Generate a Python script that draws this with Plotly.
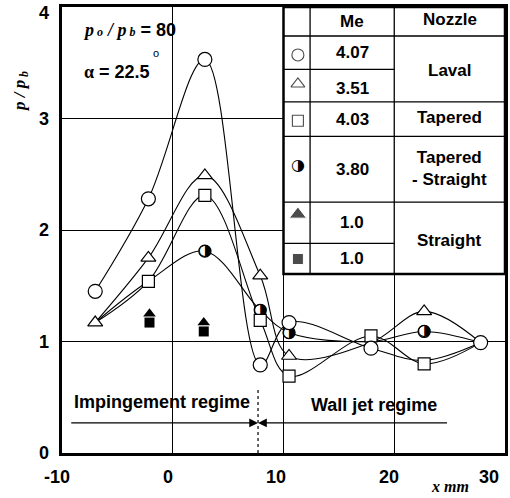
import plotly.graph_objects as go

# ---------------- data ----------------
x_pos = [-7, -2.2, 2.9, 7.9, 10.5, 17.9, 22.7, 27.8]

laval_407 = [1.45, 2.28, 3.53, 0.79, 1.17, 0.94, 0.83, 0.99]
laval_407_shown = [1, 1, 1, 1, 1, 1, 0, 1]

laval_351 = [1.17, 1.75, 2.49, 1.59, 0.87, 0.99, 1.27, 0.99]
laval_351_shown = [1, 1, 1, 1, 1, 0, 1, 0]

tapered_403 = [1.17, 1.54, 2.31, 1.19, 0.69, 1.05, 0.80, 0.99]
tapered_403_shown = [0, 1, 1, 1, 1, 1, 1, 0]

tap_str_380 = [1.17, 1.54, 1.81, 1.28, 1.08, 1.00, 1.09, 0.99]
tap_str_380_shown = [0, 0, 1, 1, 1, 0, 1, 0]

x_straight = [-2.1, 2.8]
straight_tri = [1.25, 1.17]
straight_sq = [1.17, 1.09]

x_ticks = [-10, 0, 10, 20, 30]
x_tick_shift = [-5, -5, -8, -5, -16]
y_ticks = [0, 1, 2, 3, 4]
y_tick_shift = [0, 0, 0, 0, -6]

# legend table content
tbl_me = ["4.07", "3.51", "4.03", "3.80", "1.0", "1.0"]
tbl_me_y = [3.59, 3.27, 2.99, 2.545, 2.07, 1.74]
tbl_sym_y = [3.57, 3.31, 2.98, 2.575, 2.14, 1.74]
tbl_nozzle = ["Laval", "Tapered", "Tapered<br>- Straight", "Straight"]
tbl_nozzle_y = [3.43, 3.01, 2.55, 1.91]

FONT = "Liberation Sans"
SERIF = "Liberation Serif"

fig = go.Figure()

def curve(ys):
    fig.add_trace(go.Scatter(x=x_pos, y=ys, mode="lines",
                             line=dict(color="black", width=1.1, shape="spline", smoothing=1.0),
                             hoverinfo="skip", showlegend=False))

for ys in [tap_str_380, tapered_403, laval_351, laval_407]:
    curve(ys)

def pick(ys, shown):
    xs = [x for x, s in zip(x_pos, shown) if s]
    yy = [y for y, s in zip(ys, shown) if s]
    return xs, yy

# half circle markers (white base + glyph)
hx, hy = pick(tap_str_380, tap_str_380_shown)
fig.add_trace(go.Scatter(x=hx, y=hy, mode="markers",
                         marker=dict(symbol="circle", size=12, color="white",
                                     line=dict(color="black", width=1.2)),
                         showlegend=False, hoverinfo="skip"))
fig.add_trace(go.Scatter(x=hx, y=hy, mode="text", text=["◑"] * len(hx),
                         textfont=dict(family="DejaVu Sans", size=16, color="black"),
                         textposition="middle center", showlegend=False, hoverinfo="skip"))

def markers(ys, shown, symbol, size):
    xs, yy = pick(ys, shown)
    fig.add_trace(go.Scatter(x=xs, y=yy, mode="markers",
                             marker=dict(symbol=symbol, size=size, color="white",
                                         line=dict(color="black", width=1.2)),
                             showlegend=False, hoverinfo="skip"))

markers(laval_351, laval_351_shown, "triangle-up", 13)
markers(tapered_403, tapered_403_shown, "square", 12)
markers(laval_407, laval_407_shown, "circle", 14)

fig.add_trace(go.Scatter(x=x_straight, y=straight_sq, mode="markers",
                         marker=dict(symbol="square", size=10, color="black"),
                         showlegend=False, hoverinfo="skip"))
fig.add_trace(go.Scatter(x=x_straight, y=straight_tri, mode="markers",
                         marker=dict(symbol="triangle-up", size=11, color="black"),
                         showlegend=False, hoverinfo="skip"))

# ---------------- legend table ----------------
tx0, tx1, tx2, tx3 = 10, 12.4, 20, 30
ty_top, ty_bot = 4.0, 1.605
shapes = [
    dict(type="rect", x0=tx0, x1=tx3, y0=ty_bot, y1=ty_top, xref="x", yref="y",
         fillcolor="white", line=dict(color="black", width=2.5), layer="between"),
]
for xv in [tx1, tx2]:
    shapes.append(dict(type="line", x0=xv, x1=xv, y0=ty_bot, y1=ty_top, xref="x", yref="y",
                       line=dict(color="black", width=1.3), layer="between"))
for yv, xe in [(3.74, tx3), (3.44, tx2), (3.15, tx3), (2.84, tx3), (2.25, tx3), (1.88, tx2)]:
    shapes.append(dict(type="line", x0=tx0, x1=xe, y0=yv, y1=yv, xref="x", yref="y",
                       line=dict(color="black", width=1.3), layer="between"))

# dotted regime divider
shapes.append(dict(type="line", x0=7.7, x1=7.7, y0=0, y1=0.57, xref="x", yref="y",
                   line=dict(color="black", width=1.2, dash="dot")))

sym_x = [11.3] * 6
fig.add_trace(go.Scatter(x=sym_x[:3], y=tbl_sym_y[:3], mode="markers",
                         marker=dict(symbol=["circle", "triangle-up", "square"], size=[12, 12, 11],
                                     color="white", line=dict(color="black", width=1.1)),
                         showlegend=False, hoverinfo="skip"))
fig.add_trace(go.Scatter(x=[11.3], y=[tbl_sym_y[3]], mode="text", text=["◑"],
                         textfont=dict(family="DejaVu Sans", size=16, color="black"),
                         showlegend=False, hoverinfo="skip"))
fig.add_trace(go.Scatter(x=sym_x[4:], y=tbl_sym_y[4:], mode="markers",
                         marker=dict(symbol=["triangle-up", "square"], size=[15, 11], color="black"),
                         showlegend=False, hoverinfo="skip"))

annotations = []
def txt(x, y, s, size=17, xref="x", yref="y", **kw):
    d = dict(x=x, y=y, text=s, xref=xref, yref=yref, showarrow=False,
             font=dict(family=FONT, size=size, color="black", weight="bold"))
    d.update(kw)
    annotations.append(d)

txt((tx1 + tx2) / 2, 3.87, "Me")
txt((tx2 + tx3) / 2, 3.89, "Nozzle")
for s, yv in zip(tbl_me, tbl_me_y):
    txt((tx1 + tx2) / 2, yv, s)
for s, yv in zip(tbl_nozzle, tbl_nozzle_y):
    txt((tx2 + tx3) / 2, yv, s)

# tick labels
for v, sh in zip(x_ticks, x_tick_shift):
    annotations.append(dict(x=v, y=0, xref="x", yref="paper", yanchor="top", yshift=-12, xshift=sh,
                            showarrow=False, text=str(v),
                            font=dict(family=FONT, size=18, color="black", weight="bold")))
for v, sh in zip(y_ticks, y_tick_shift):
    annotations.append(dict(x=0, y=v, xref="paper", yref="y", xanchor="right", xshift=-11, yshift=sh,
                            showarrow=False, text=str(v),
                            font=dict(family=FONT, size=18, color="black", weight="bold")))

# parameter labels
annotations.append(dict(x=-8.3, y=3.79, xref="x", yref="y", showarrow=False, xanchor="left",
                        text="<span style='font-family:Liberation Serif;font-style:italic'>p</span>"
                             "<span style='font-family:Liberation Serif;font-style:italic;font-size:12px'> o</span>"
                             " <span style='font-family:Liberation Serif;font-style:italic'>/ p</span>"
                             "<span style='font-family:Liberation Serif;font-style:italic;font-size:12px'> b</span> = 80",
                        font=dict(family=FONT, size=18, color="black", weight="bold")))
annotations.append(dict(x=-8.2, y=3.42, xref="x", yref="y", showarrow=False, xanchor="left",
                        text="<span style='font-family:Liberation Serif'>α</span> = 22.5",
                        font=dict(family=FONT, size=18, color="black", weight="bold")))
annotations.append(dict(x=-1.5, y=3.59, xref="x", yref="y", showarrow=False,
                        text="o", font=dict(family=FONT, size=11, color="black")))

# regime labels
txt(-1.0, 0.46, "Impingement regime", size=18)
txt(18.2, 0.43, "Wall jet regime", size=18)

# arrows
annotations.append(dict(x=7.7, y=0.27, ax=-9.3, ay=0.27, xref="x", yref="y", axref="x", ayref="y",
                        showarrow=True, arrowhead=2, arrowsize=1.6, arrowwidth=1.1,
                        arrowcolor="black", text=""))
annotations.append(dict(x=7.7, y=0.27, ax=24.9, ay=0.27, xref="x", yref="y", axref="x", ayref="y",
                        showarrow=True, arrowhead=2, arrowsize=1.6, arrowwidth=1.1,
                        arrowcolor="black", text=""))

# axis titles
annotations.append(dict(x=-0.094, y=0.81, xref="paper", yref="paper", showarrow=False, textangle=-90,
                        xanchor="center", yanchor="middle",
                        text="<i>p / p</i><sub><i> b</i></sub>",
                        font=dict(family=SERIF, size=17, color="black", weight="bold")))
annotations.append(dict(x=0.875, y=-0.075, xref="paper", yref="paper", showarrow=False,
                        xanchor="center", yanchor="middle",
                        text="<i>x mm</i>",
                        font=dict(family=SERIF, size=16, color="black", weight="bold")))

fig.update_layout(
    width=510, height=498,
    margin=dict(l=62, r=2, t=7, b=45),
    paper_bgcolor="white", plot_bgcolor="white",
    shapes=shapes, annotations=annotations,
    xaxis=dict(range=[-10, 30], tickvals=x_ticks, showticklabels=False,
               showgrid=True, gridcolor="black", gridwidth=1, zeroline=False,
               showline=True, linecolor="black", linewidth=2.5, mirror=True, ticks=""),
    yaxis=dict(range=[0, 4], tickvals=y_ticks, showticklabels=False,
               showgrid=True, gridcolor="black", gridwidth=1, zeroline=False,
               showline=True, linecolor="black", linewidth=2.5, mirror=True, ticks=""),
)

fig.write_html("out.html")
